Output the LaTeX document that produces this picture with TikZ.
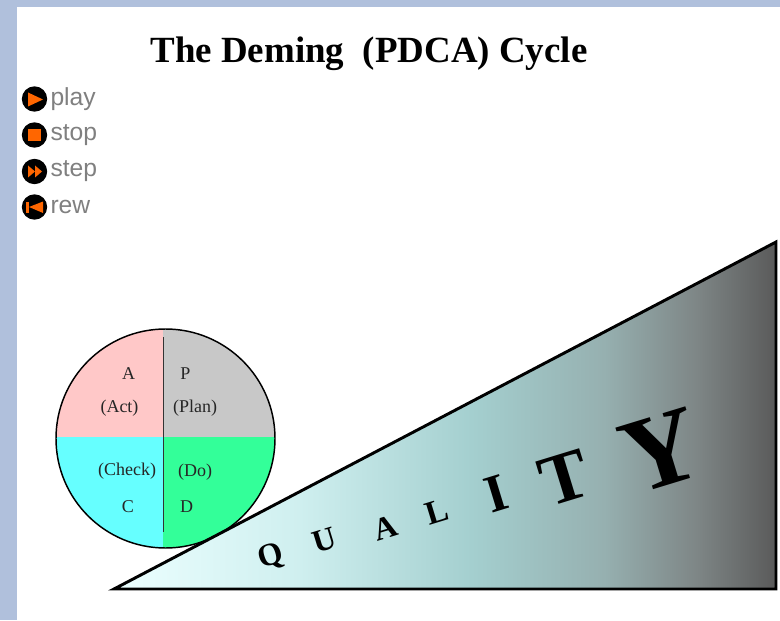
\documentclass[tikz,border=0pt]{standalone}
\usepackage{fontspec}
\setmainfont{Liberation Serif}
\newfontfamily\btnfont{Liberation Sans}
\definecolor{pageblue}{HTML}{B0C0DC}
\definecolor{btnorange}{HTML}{FF6600}
\definecolor{btngray}{HTML}{808080}
\definecolor{actpink}{HTML}{FFC8C8}
\definecolor{plangray}{HTML}{C8C8C8}
\definecolor{checkcyan}{HTML}{66FFFF}
\definecolor{dogreen}{HTML}{33FF99}
\definecolor{wedgea}{HTML}{ECFFFF}
\definecolor{wedgeb}{HTML}{CFEFEF}
\definecolor{wedgec}{HTML}{A4CFCF}
\definecolor{wedged}{HTML}{96B0B0}
\definecolor{wedgee}{HTML}{7E8686}
\definecolor{wedgef}{HTML}{5A5A5A}
\pgfdeclarehorizontalshading{wedgefade}{100bp}{
  color(0bp)=(wedgea);
  color(25bp)=(wedgea);
  color(39bp)=(wedgeb);
  color(52bp)=(wedgec);
  color(62bp)=(wedged);
  color(69bp)=(wedgee);
  color(75bp)=(wedgef);
  color(100bp)=(wedgef)}
\tikzset{every picture/.style={line width=0.75pt},
  btnlabel/.style={anchor=west,inner sep=0pt,text=btngray,font=\btnfont\fontsize{18.5}{20}\selectfont},
  btndisc/.style={circle,fill=black,inner sep=0pt,minimum size=19pt},
  cyclelabel/.style={inner sep=0pt,text=black!85,font=\fontsize{13.5}{15}\selectfont},
  qualitylabel/.style={inner sep=0pt,rotate=17,font=\bfseries\fontsize{#1}{#1}\selectfont}}

\begin{document}
\begin{tikzpicture}[x=0.75pt,y=0.75pt,yscale=-1,xscale=1]
    \useasboundingbox (0,0) rectangle (780,620);

    %Page border
    \fill [white] (0,0) rectangle (780,620);
    \fill [pageblue] (0,0) rectangle (780,7);
    \fill [pageblue] (0,0) rectangle (17,620);

    % Title
    \node (title) at (369,54) [inner sep=0pt,font=\bfseries\fontsize{27.7}{30}\selectfont] {The Deming\ \ (PDCA) Cycle};

    %Buttons
    \node (playbtn) at (34.5,99) [btndisc] {};
    \fill [btnorange] (28,92.5) -- (43,99.5) -- (28,106.5) -- cycle;
    \node (playtxt) at (50,99) [btnlabel] {play};

    \node (stopbtn) at (34.5,135) [btndisc] {};
    \fill [btnorange] (28,129) rectangle (41,141);
    \node (stoptxt) at (50,135) [btnlabel] {stop};

    \node (stepbtn) at (34.5,171.5) [btndisc] {};
    \fill [btnorange] (28,165.5) -- (35,171.5) -- (28,177.5) -- cycle;
    \fill [btnorange] (35,165.5) -- (42,171.5) -- (35,177.5) -- cycle;
    \node (steptxt) at (50,171) [btnlabel] {step};

    \node (rewbtn) at (34.5,207) [btndisc] {};
    \fill [btnorange] (26,201.5) rectangle (29,213);
    \fill [btnorange] (43,201.5) -- (29,207) -- (43,213) -- cycle;
    \node (rewtxt) at (50,207) [btnlabel] {rew};

    %Cycle wheel
    \begin{scope}
      \clip (165.5,438.5) circle (109.5);
      \fill [actpink] (50,320) rectangle (163,437);
      \fill [plangray] (163,320) rectangle (280,437);
      \fill [checkcyan] (50,437) rectangle (163,555);
      \fill [dogreen] (163,437) rectangle (280,555);
    \end{scope}
    \draw [line width=1.1pt] (165.5,438.5) circle (109.5);
    \draw [line width=0.6pt,black!80] (163,337) -- (163,532);

    % Text Node
    \node (actA) at (128.5,374) [cyclelabel] {A};
    \node (actB) at (119.5,408) [cyclelabel] {(Act)};
    \node (planA) at (185.5,373.5) [cyclelabel] {P};
    \node (planB) at (195,408) [cyclelabel] {(Plan)};
    \node (checkB) at (127,471) [cyclelabel] {(Check)};
    \node (checkA) at (128,507) [cyclelabel] {C};
    \node (doB) at (195,472) [cyclelabel] {(Do)};
    \node (doA) at (186.5,507) [cyclelabel] {D};

    %Wedge
    \shade [shading=wedgefade] (114,589) -- (776,589) -- (776,242) -- cycle;
    \draw [line width=2.2pt,line join=miter] (114,589) -- (776,589) -- (776,242) -- cycle;

    % Text Node
    \node (letterQ) at (271,557) [qualitylabel=24] {Q};
    \node (letterU) at (325,540) [qualitylabel=24] {U};
    \node (letterA) at (385,528) [qualitylabel=24] {A};
    \node (letterL) at (437,512) [qualitylabel=25] {L};
    \node (letterI) at (496,494) [qualitylabel=40] {I};
    \node (letterT) at (565,478) [qualitylabel=54] {T};
    \node (letterY) at (661,451) [qualitylabel=80] {Y};
\end{tikzpicture}
\end{document}
